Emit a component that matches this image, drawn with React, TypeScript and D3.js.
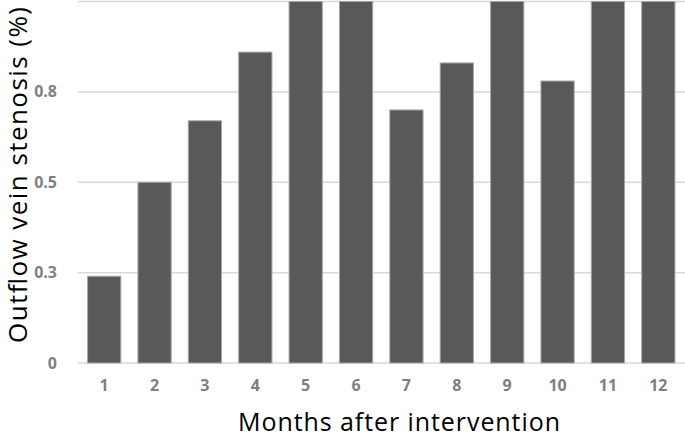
import React from "react";
import * as d3 from "d3";

const months = ["1", "2", "3", "4", "5", "6", "7", "8", "9", "10", "11", "12"];
const stenosis = [0.24, 0.5, 0.67, 0.86, 1.0, 1.0, 0.7, 0.83, 1.0, 0.78, 1.0, 1.0];
const yTicks = [0, 0.25, 0.5, 0.75, 1.0];
const yTickLabels = ["0", "0.3", "0.5", "0.8", ""];

const W = 685;
const H = 438;
const FONT = "'Open Sans', 'DejaVu Sans', sans-serif";

export default function App() {
  const x = d3.scaleBand<string>().domain(months).range([79, 683.5]).paddingInner(0.34).paddingOuter(0.17);
  const y = d3.scaleLinear().domain([0, 1]).range([363, 1.5]);

  return (
    <svg width={W} height={H} style={{ position: "absolute", left: 0, top: 0, background: "#fff" }}>
      {yTicks.map((t, i) => (
        <line key={"g" + i} x1={78} x2={685} y1={y(t)} y2={y(t)} stroke="#d9d9d9" strokeWidth={1.5} />
      ))}
      {months.map((m, i) => (
        <rect
          key={"b" + m}
          x={x(m)!}
          y={y(stenosis[i])}
          width={x.bandwidth()}
          height={y(0) - y(stenosis[i])}
          fill="#595959"
          stroke="#a6a6a6"
          strokeWidth={1}
        />
      ))}
      {yTicks.map((t, i) => (
        <text key={"yl" + i} x={57} y={y(t)} dy="0.35em" textAnchor="end" fontFamily={FONT} fontSize={16} fontWeight="bold" fill="#7f7f7f">
          {yTickLabels[i]}
        </text>
      ))}
      {months.map((m) => (
        <text key={"xl" + m} x={x(m)! + x.bandwidth() / 2} y={385} dy="0.35em" textAnchor="middle" fontFamily={FONT} fontSize={16} fontWeight="bold" fill="#7f7f7f">
          {m}
        </text>
      ))}
      <text x={399} y={431} textAnchor="middle" fontFamily={FONT} fontSize={25} textLength={322} lengthAdjust="spacing" fill="#000">
        Months after intervention
      </text>
      <text transform="translate(27,175) rotate(-90)" textAnchor="middle" fontFamily={FONT} fontSize={26} textLength={336} lengthAdjust="spacing" fill="#000">
        Outflow vein stenosis (%)
      </text>
    </svg>
  );
}
